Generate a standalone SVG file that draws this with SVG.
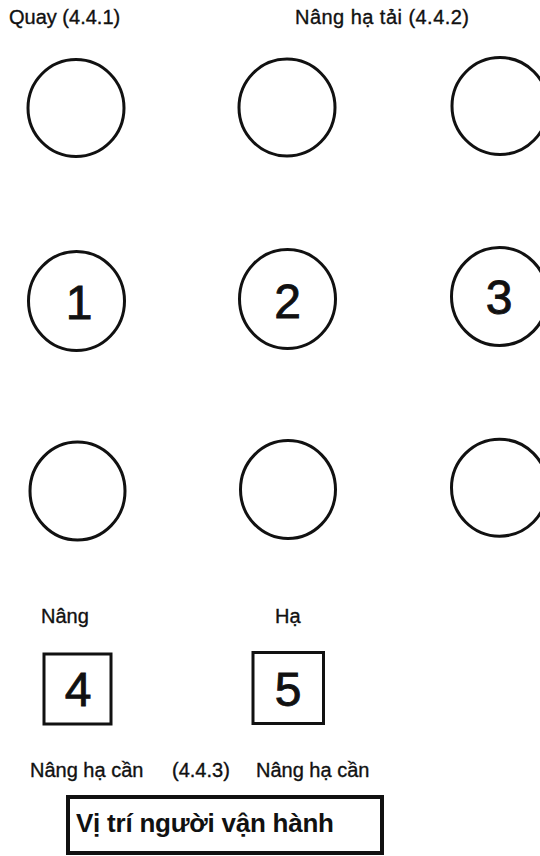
<svg xmlns="http://www.w3.org/2000/svg" width="540" height="856" viewBox="0 0 540 856">
  <style>
    .lbl { font-family: "Liberation Sans", Arial, sans-serif; font-size: 20px; fill: #111; stroke: #111; stroke-width: 0.35; }
    .num { font-family: "Liberation Sans", Arial, sans-serif; font-size: 48px; fill: #111; stroke: #111; stroke-width: 0.9; text-anchor: middle; }
    .btn { fill: #fff; stroke: #111; stroke-width: 3; }
    .box { fill: #fff; stroke: #111; stroke-width: 3; }
    .op { font-family: "Liberation Sans", Arial, sans-serif; font-size: 26px; font-weight: bold; fill: #111; }
  </style>
  <rect width="540" height="856" fill="#fff"/>

  <g id="labels">
    <text class="lbl" x="9" y="24">Quay (4.4.1)</text>
    <text class="lbl" x="295" y="24" textLength="174">Nâng hạ tải (4.4.2)</text>
    <text class="lbl" x="41" y="623">Nâng</text>
    <text class="lbl" x="275" y="623">Hạ</text>
    <text class="lbl" x="30" y="777">Nâng hạ cần</text>
    <text class="lbl" x="172" y="777">(4.4.3)</text>
    <text class="lbl" x="256" y="777">Nâng hạ cần</text>
  </g>

  <g id="row1">
    <g id="c-top-left"><ellipse class="btn" cx="76" cy="108" rx="48" ry="48.5"/></g>
    <g id="c-top-mid"><ellipse class="btn" cx="287" cy="107.5" rx="48" ry="48.5"/></g>
    <g id="c-top-right"><ellipse class="btn" cx="500" cy="106" rx="48" ry="48.5"/></g>
  </g>

  <g id="row2">
    <g id="c1"><ellipse class="btn" cx="76.5" cy="301" rx="48" ry="49.5"/><text class="num" x="79" y="319">1</text></g>
    <g id="c2"><ellipse class="btn" cx="287.5" cy="299" rx="48" ry="49.5"/><text class="num" x="287.5" y="318">2</text></g>
    <g id="c3"><ellipse class="btn" cx="499.5" cy="296.5" rx="48" ry="49"/><text class="num" x="499" y="314">3</text></g>
  </g>

  <g id="row3">
    <g id="c-bot-left"><ellipse class="btn" cx="77.5" cy="491" rx="47.5" ry="49"/></g>
    <g id="c-bot-mid"><ellipse class="btn" cx="288" cy="489.5" rx="47.5" ry="49"/></g>
    <g id="c-bot-right"><ellipse class="btn" cx="499.5" cy="487.7" rx="48" ry="48.5"/></g>
  </g>

  <g id="b4"><rect class="box" x="44" y="654" width="67" height="70"/><text class="num" x="78" y="706">4</text></g>
  <g id="b5"><rect class="box" x="253" y="652.5" width="70.5" height="71"/><text class="num" x="288" y="706">5</text></g>

  <g id="operator">
    <rect x="68" y="797" width="314" height="56" fill="#fff" stroke="#111" stroke-width="4"/>
    <text class="op" x="76" y="832" textLength="258">Vị trí người vận hành</text>
  </g>

  <g id="connectors"></g>
</svg>
